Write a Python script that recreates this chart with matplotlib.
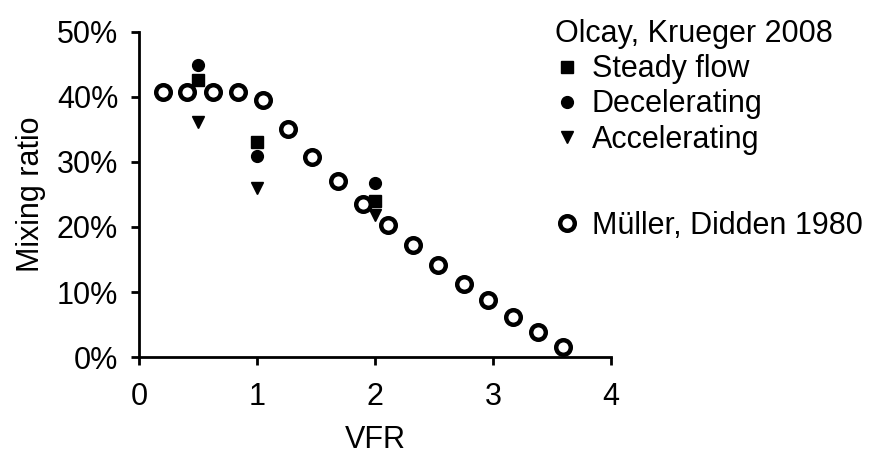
import matplotlib
matplotlib.use("Agg")
import matplotlib.pyplot as plt
from matplotlib.lines import Line2D
from matplotlib.ticker import PercentFormatter

plt.rcParams['font.family'] = ['Liberation Sans', 'DejaVu Sans']

FS = 22

# ---- data ----
muller_vfr = [0.20, 0.41, 0.63, 0.84, 1.05, 1.26, 1.47, 1.69, 1.90,
              2.11, 2.32, 2.53, 2.75, 2.96, 3.17, 3.38, 3.59]
muller_mix = [40.8, 40.8, 40.8, 40.8, 39.6, 35.0, 30.8, 27.1, 23.5,
              20.3, 17.2, 14.2, 11.3, 8.8, 6.1, 3.8, 1.5]

olcay_vfr = [0.5, 1.0, 2.0]
steady_mix = [42.6, 33.0, 24.0]
decel_mix = [44.9, 30.9, 26.7]
accel_mix = [36.2, 26.0, 21.8]

fig = plt.figure(figsize=(8.71, 4.53), dpi=100)
ax = fig.add_axes([0.1596, 0.2119, 0.5419, 0.7175])

ax.plot(olcay_vfr, steady_mix, 's', color='black', ms=8.5, clip_on=False)
ax.plot(olcay_vfr, decel_mix, 'o', color='black', ms=8.5, clip_on=False)
ax.plot(olcay_vfr, accel_mix, 'v', color='black', ms=9, clip_on=False)
ax.plot(muller_vfr, muller_mix, 'o', mfc='white', mec='black', mew=3.2,
        ms=10.5, clip_on=False)

ax.set_xlim(0, 4)
ax.set_ylim(0, 50)
ax.set_xticks([0, 1, 2, 3, 4])
ax.set_yticks([0, 10, 20, 30, 40, 50])
ax.yaxis.set_major_formatter(PercentFormatter(decimals=0))

for s in ['top', 'right']:
    ax.spines[s].set_visible(False)
for s in ['left', 'bottom']:
    ax.spines[s].set_linewidth(2)
ax.tick_params(direction='out', length=6, width=2, labelsize=FS, colors='black')
ax.tick_params(axis='y', pad=9)
ax.tick_params(axis='x', pad=12)

ax.set_xlabel('VFR', fontsize=FS, labelpad=9)
ax.set_ylabel('Mixing ratio', fontsize=FS, labelpad=8)

h1 = [Line2D([], [], marker='s', ls='none', color='black', ms=8.5),
      Line2D([], [], marker='o', ls='none', color='black', ms=8.5),
      Line2D([], [], marker='v', ls='none', color='black', ms=9)]
fig.legend(h1, ['Steady flow', 'Decelerating', 'Accelerating'],
           title='Olcay, Krueger 2008', loc='upper left',
           bbox_to_anchor=(0.623, 0.985), frameon=False, fontsize=FS,
           title_fontsize=FS, handlelength=0.8, handletextpad=0.4,
           labelspacing=0.17, alignment='left', borderaxespad=0)

h2 = [Line2D([], [], marker='o', ls='none', mfc='white', mec='black',
             mew=3.2, ms=10.5)]
fig.legend(h2, ['Müller, Didden 1980'], loc='upper left',
           bbox_to_anchor=(0.623, 0.562), frameon=False, fontsize=FS,
           handlelength=0.8, handletextpad=0.4, borderaxespad=0)

fig.savefig('out.png', dpi=100)
